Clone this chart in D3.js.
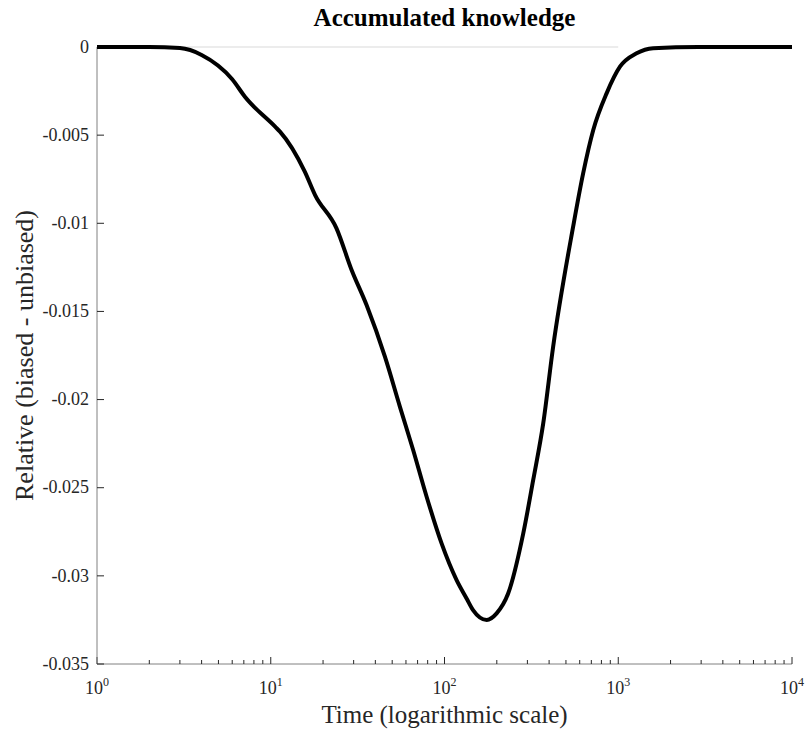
<!DOCTYPE html>
<html lang="en">
<head>
<meta charset="UTF-8">
<title>Accumulated knowledge</title>
<script src="https://cdnjs.cloudflare.com/ajax/libs/d3/7.8.5/d3.min.js"></script>
<style>
    body { margin: 0; padding: 0; background: #ffffff; }
    text { font-family: "Liberation Serif", "Times New Roman", Times, serif; }
</style>
</head>
<body>
<div id="chart"></div>
<script>
    // time points (log axis) and the relative difference
    const times = [1, 2, 3, 4, 6, 7.1, 10.6, 11.3, 15.7, 18, 23.9, 29.2, 35.6, 45.4, 55.4, 66, 78.9,
                   96.2, 117.4, 134, 146, 175, 199.5, 232.7, 284, 324, 370, 422, 550, 628, 718,
                   857, 1023, 1275, 1588, 2900, 10000];
    const relDiff = [0, 0, -0.00006, -0.00045, -0.00183, -0.00282, -0.00452, -0.0048, -0.00707,
                     -0.0084, -0.01029, -0.01265, -0.01464, -0.01757, -0.02041, -0.02286, -0.02551,
                     -0.02816, -0.03024, -0.03128, -0.03194, -0.0325, -0.03213, -0.03099, -0.02759,
                     -0.02456, -0.02135, -0.017, -0.01019, -0.00717, -0.00471, -0.00263, -0.00112,
                     -0.00036, -0.00007, 0, 0];
    // faint zero reference line
    const refTimes = [1, 1000];
    const refValues = [0, 0];

    const yTicks = [0, -0.005, -0.01, -0.015, -0.02, -0.025, -0.03, -0.035];
    const xTicks = [1, 10, 100, 1000, 10000];

    const width = 807, height = 735;
    const margin = {top: 47, right: 15, bottom: 71, left: 97};
    const serif = "'Liberation Serif', 'Times New Roman', Times, serif";

    const svg = d3.select("#chart").append("svg")
        .attr("width", width)
        .attr("height", height)
        .attr("font-family", serif);

    const x = d3.scaleLog()
        .domain([1, 10000])
        .range([margin.left, width - margin.right]);

    const y = d3.scaleLinear()
        .domain([-0.035, 0])
        .range([height - margin.bottom, margin.top]);

    const axisColor = "#808080";
    const textColor = "#262626";

    // minor ticks for log axis
    const minor = [];
    for (let d = 1; d < 10000; d *= 10) {
        for (let k = 2; k <= 9; k++) minor.push(d * k);
    }

    const xAxis = svg.append("g")
        .attr("transform", `translate(0,${height - margin.bottom})`);

    xAxis.append("line")
        .attr("x1", x(1)).attr("x2", x(10000))
        .attr("stroke", axisColor);

    xAxis.selectAll(".minor").data(minor).join("line")
        .attr("x1", d => x(d)).attr("x2", d => x(d))
        .attr("y1", 0).attr("y2", -4)
        .attr("stroke", textColor);

    xAxis.selectAll(".major").data(xTicks).join("line")
        .attr("x1", d => x(d)).attr("x2", d => x(d))
        .attr("y1", 0).attr("y2", -7)
        .attr("stroke", textColor);

    const xLab = xAxis.selectAll(".xlab").data(xTicks).join("text")
        .attr("x", d => x(d))
        .attr("y", 30)
        .attr("text-anchor", "middle")
        .attr("fill", textColor)
        .attr("font-family", serif)
        .style("font-size", "18px");
    xLab.append("tspan").text("10");
    xLab.append("tspan")
        .attr("dy", -8)
        .style("font-size", "12px")
        .text(d => Math.round(Math.log10(d)));

    const yAxis = svg.append("g")
        .attr("transform", `translate(${margin.left},0)`);

    yAxis.append("line")
        .attr("y1", y(0)).attr("y2", y(-0.035))
        .attr("stroke", axisColor);

    yAxis.selectAll(".ytick").data(yTicks).join("line")
        .attr("x1", 0).attr("x2", 7)
        .attr("y1", d => y(d)).attr("y2", d => y(d))
        .attr("stroke", textColor);

    yAxis.selectAll(".ylab").data(yTicks).join("text")
        .attr("x", -8)
        .attr("y", d => y(d))
        .attr("dy", "0.32em")
        .attr("text-anchor", "end")
        .attr("fill", textColor)
        .attr("font-family", serif)
        .style("font-size", "18px")
        .text(d => d === 0 ? "0" : String(d));

    const line = d3.line()
        .x(d => x(d[0]))
        .y(d => y(d[1]))
        .curve(d3.curveMonotoneX);

    svg.append("path")
        .datum(refTimes.map((t, i) => [t, refValues[i]]))
        .attr("d", line)
        .attr("fill", "none")
        .attr("stroke", "#e6e6e6")
        .attr("stroke-width", 1.5);

    svg.append("path")
        .datum(times.map((t, i) => [t, relDiff[i]]))
        .attr("d", line)
        .attr("fill", "none")
        .attr("stroke", "#000000")
        .attr("stroke-width", 4)
        .attr("stroke-linejoin", "round");

    // title and axis labels
    svg.append("text")
        .attr("x", (margin.left + width - margin.right) / 2)
        .attr("y", 26)
        .attr("text-anchor", "middle")
        .attr("fill", "#000")
        .attr("font-family", serif)
        .style("font-size", "25px")
        .style("font-weight", "bold")
        .text("Accumulated knowledge");

    svg.append("text")
        .attr("x", (margin.left + width - margin.right) / 2)
        .attr("y", 723)
        .attr("text-anchor", "middle")
        .attr("fill", textColor)
        .attr("font-family", serif)
        .style("font-size", "25px")
        .text("Time (logarithmic scale)");

    svg.append("text")
        .attr("transform", `translate(33,${(margin.top + height - margin.bottom) / 2}) rotate(-90)`)
        .attr("text-anchor", "middle")
        .attr("fill", textColor)
        .attr("font-family", serif)
        .style("font-size", "26px")
        .text("Relative (biased - unbiased)");
</script>
</body>
</html>
